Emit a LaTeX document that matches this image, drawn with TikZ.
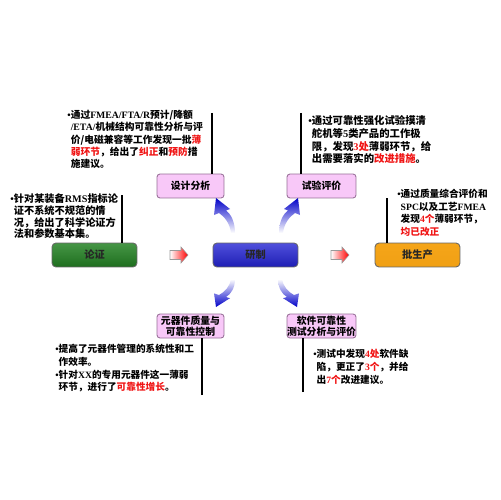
\documentclass[tikz,border=0pt]{standalone}
\usepackage{fontspec}
\newfontfamily\cjk{Noto Sans CJK SC}
\newfontfamily\ser{Liberation Serif}
\usetikzlibrary{calc}
\definecolor{pinkf}{RGB}{248,200,248}
\definecolor{pinkd}{RGB}{150,110,150}
\definecolor{bl}{RGB}{0,0,200}
\definecolor{gtop}{RGB}{70,150,70}
\definecolor{gbot}{RGB}{30,110,30}
\definecolor{btop}{RGB}{80,80,220}
\definecolor{bbot}{RGB}{30,30,180}
\definecolor{otop}{RGB}{245,165,25}
\definecolor{obot}{RGB}{240,160,20}
\definecolor{rdc}{RGB}{240,20,20}
\newcommand\la[1]{{\ser\bfseries #1}}
\newcommand\rd[1]{\textcolor{rdc}{#1}}
\newcommand\bu{{\ser\bfseries •}}
\newcommand\ph{\phantom{\bu}}
\newcommand\fs[2]{\cjk\bfseries\fontsize{#1}{#2}\selectfont}
\newcommand\barrow{(-2,0) .. controls (-2,-11) and (2,-19) .. (7,-22.5) -- (3,-24) -- (17,-35) -- (19,-18) -- (14,-20) .. controls (8,-16) and (3,-9) .. (2,0) -- cycle}
\newcommand\rarrow{(0,-4.5) -- (11,-4.5) -- (11,-8) -- (18,0) -- (11,8) -- (11,4.5) -- (0,4.5) -- cycle}
\begin{document}
\begin{tikzpicture}[x=0.02cm,y=-0.02cm,
  mainbox/.style={draw=black!60, line width=0.5pt, rounded corners=0.08cm,
    minimum width=1.70cm, minimum height=0.48cm, inner sep=0pt,
    font=\fs{5.8}{7}, text=black!85},
  pbox/.style={draw=pinkd, line width=0.5pt, fill=pinkf, rounded corners=0.06cm,
    minimum height=0.48cm, inner sep=0pt, align=center, font=\fs{5.6}{6.4}},
  tx/.style={anchor=north west, inner sep=0pt, align=left},
  vline/.style={line width=0.8pt, black},
  redarr/.style={draw=black!40, line width=0.3pt, left color=white, right color=red},
]
\useasboundingbox (0,0) rectangle (500,500);

% main boxes
\node[mainbox, top color=gtop, middle color=white, bottom color=gbot] (lz) at (94.5,255) {论证};
\node[mainbox, top color=btop, middle color=white, bottom color=bbot] (yz) at (255.5,255) {研制};
\node[mainbox, top color=otop, middle color=white!85!orange, bottom color=obot] (pc) at (417.5,255) {批生产};

% pink boxes
\node[pbox, minimum width=1.34cm] (sj) at (190.5,186) {设计分析};
\node[pbox, minimum width=1.38cm] (sy) at (321.5,186) {试验评价};
\node[pbox, minimum width=1.34cm] (yq) at (190.5,326) {元器件质量与\\可靠性控制};
\node[pbox, minimum width=1.38cm] (rj) at (321.5,326) {软件可靠性\\测试分析与评价};

% red arrows
\begin{scope}[shift={(170,255)}] \shade[redarr] \rarrow; \end{scope}
\begin{scope}[shift={(331,255)}] \shade[redarr] \rarrow; \end{scope}

% blue curved arrows
\begin{scope}[shift={(281,233)}]
  \shade[top color=bl, middle color=bl!80!white, bottom color=white] \barrow;
\end{scope}
\begin{scope}[shift={(233,233)}, xscale=-1]
  \shade[top color=bl, middle color=bl!80!white, bottom color=white] \barrow;
\end{scope}
\begin{scope}[shift={(233,279)}, xscale=-1, yscale=-0.8]
  \shade[bottom color=bl, middle color=bl!80!white, top color=white] \barrow;
\end{scope}
\begin{scope}[shift={(280,279)}, yscale=-0.8]
  \shade[bottom color=bl, middle color=bl!80!white, top color=white] \barrow;
\end{scope}

% vertical lines
\coordinate (c1) at (122,195);
\coordinate (c2) at (212,113);
\coordinate (c3) at (301,113);
\coordinate (c4) at (387,198);
\coordinate (c5) at (202,395);
\coordinate (c6) at (303,392);
\draw[vline] (c1) -- (c1 |- lz.north);
\draw[vline] (c2) -- (c2 |- sj.north);
\draw[vline] (c3) -- (c3 |- sy.north);
\draw[vline] (c4) -- (c4 |- pc.north);
\draw[vline] (c5) -- (c5 |- yq.south);
\draw[vline] (c6) -- (c6 |- rj.south);

% texts
\node[tx, font=\fs{5.55}{7}] (t1) at (67,110) {\bu 通过\la{FMEA/FTA/R}预计/降额\\
\ph\la{/ETA/}机械结构可靠性分析与评\\
\ph 价/电磁兼容等工作发现一批\rd{薄}\\
\ph\rd{弱环节}，给出了\rd{纠正}和\rd{预防}措\\
\ph 施建议。};

\node[tx, font=\fs{5.9}{7.2}] (t2) at (308,115.5) {\bu 通过可靠性强化试验摸清\\
\ph 舵机等\la{5}类产品的工作极\\
\ph 限，发现\rd{\la{3}处}薄弱环节，给\\
\ph 出需要落实的\rd{改进措施}。};

\node[tx, font=\fs{5.8}{6.8}] (t3) at (10,193) {\bu 针对某装备\la{RMS}指标论\\
\ph 证不系统不规范的情\\
\ph 况，给出了科学论证方\\
\ph 法和参数基本集。};

\node[tx, font=\fs{5.5}{7.1}] (t4) at (397,189) {\bu 通过质量综合评价和\\
\ph\la{SPC}以及工艺\la{FMEA}\\
\ph 发现\rd{\la{4}个}薄弱环节，\\
\ph\rd{均已改正}};

\node[tx, font=\fs{5.5}{7.25}] (t5) at (55,344) {\bu 提高了元器件管理的系统性和工\\
\ph 作效率。\\
\bu 针对\la{XX}的专用元器件这一薄弱\\
\ph 环节，进行了\rd{可靠性增长}。};

\node[tx, font=\fs{5.5}{7.2}] (t6) at (313,349) {\bu 测试中发现\rd{\la{4}处}软件缺\\
\ph 陷，更正了\rd{\la{3}个}，并给\\
\ph 出\rd{\la{7}个}改进建议。};
\end{tikzpicture}
\end{document}
